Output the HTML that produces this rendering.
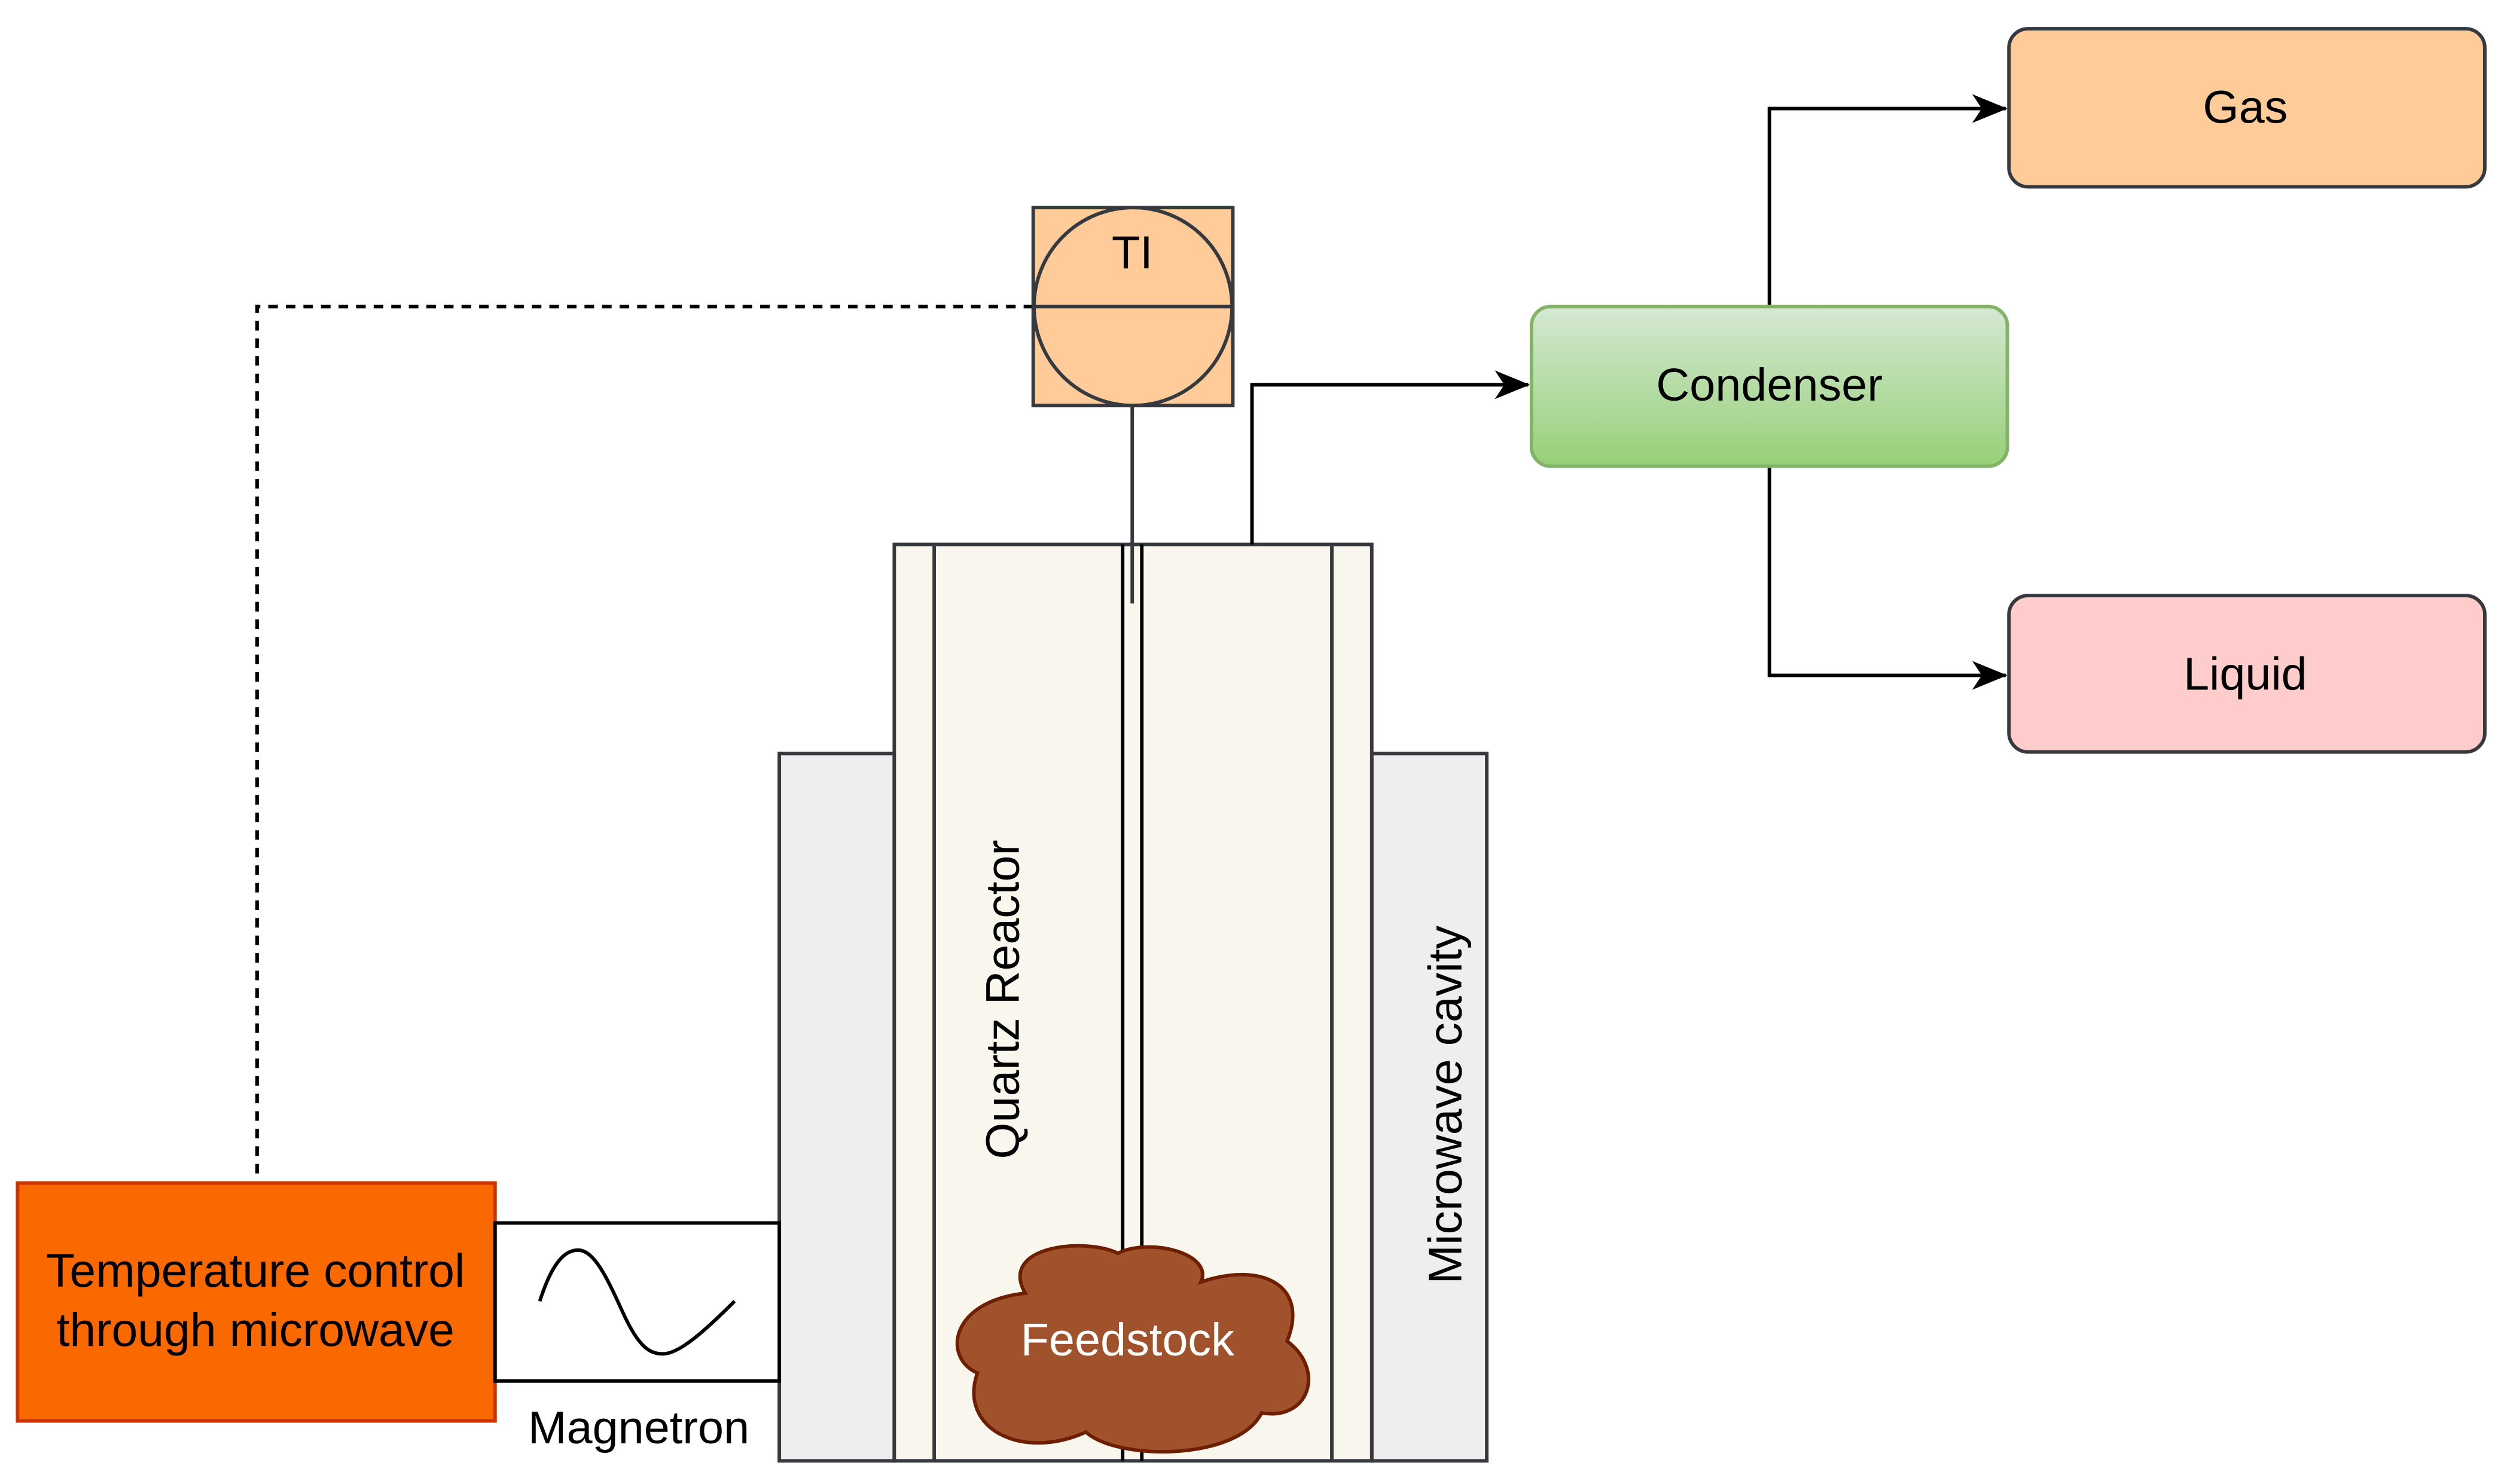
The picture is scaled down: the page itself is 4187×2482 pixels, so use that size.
<!DOCTYPE html>
<html><head><style>html,body{margin:0;padding:0;background:#fff}svg{display:block}</style></head>
<body>
<svg width="4187" height="2482" viewBox="0 0 1568 929.5" xmlns="http://www.w3.org/2000/svg" font-family="Liberation Sans, Arial, sans-serif">
<defs>
<linearGradient id="g" x1="0" y1="0" x2="0" y2="1"><stop offset="0" stop-color="#d5e8d4"/><stop offset="1" stop-color="#97d077"/></linearGradient>
<marker id="a" markerWidth="22" markerHeight="20" refX="21" refY="10" orient="auto" markerUnits="userSpaceOnUse" viewBox="0 0 22 20"><path d="M0,1 L22,10 L0,19 L6,10 Z" fill="#000"/></marker>
</defs>
<rect width="1568" height="929.5" fill="#fff"/>
<polyline points="647,192 161,192 161,740" fill="none" stroke="#000" stroke-width="2.2" stroke-dasharray="6,5"/>
<rect x="488" y="472" width="72" height="443" fill="#eeeeee" stroke="#36393d" stroke-width="2.2"/>
<rect x="859" y="472" width="72" height="443" fill="#eeeeee" stroke="#36393d" stroke-width="2.2"/>
<rect x="560" y="341" width="299" height="574" fill="#f9f7ed" stroke="#36393d" stroke-width="2.2"/>
<line x1="585" y1="341" x2="585" y2="915" stroke="#36393d" stroke-width="2.2"/>
<line x1="834" y1="341" x2="834" y2="915" stroke="#36393d" stroke-width="2.2"/>
<line x1="703" y1="341" x2="703" y2="915" stroke="#000" stroke-width="2.2"/>
<line x1="715" y1="341" x2="715" y2="915" stroke="#000" stroke-width="2.2"/>
<line x1="709" y1="254" x2="709" y2="378" stroke="#36393d" stroke-width="2.2"/>
<rect x="647" y="130" width="125" height="124" fill="#ffcc99" stroke="#36393d" stroke-width="2.2"/>
<circle cx="709.5" cy="192" r="62" fill="#ffcc99" stroke="#36393d" stroke-width="2.2"/>
<line x1="647" y1="192" x2="772" y2="192" stroke="#36393d" stroke-width="2.2"/>
<text x="709" y="168" font-size="29" text-anchor="middle">TI</text>
<polyline points="784,341 784,241 957,241" fill="none" stroke="#000" stroke-width="2.2" marker-end="url(#a)"/>
<polyline points="1108,192 1108,68 1256,68" fill="none" stroke="#000" stroke-width="2.2" marker-end="url(#a)"/>
<polyline points="1108,292 1108,423 1256,423" fill="none" stroke="#000" stroke-width="2.2" marker-end="url(#a)"/>
<rect x="959" y="192" width="298" height="100" rx="12" fill="url(#g)" stroke="#82b366" stroke-width="2.2"/>
<text x="1108" y="251" font-size="29" text-anchor="middle">Condenser</text>
<rect x="1258" y="18" width="298" height="99" rx="12" fill="#ffcc99" stroke="#36393d" stroke-width="2.2"/>
<text x="1406" y="77" font-size="29" text-anchor="middle">Gas</text>
<rect x="1258" y="373" width="298" height="98" rx="12" fill="#ffcccc" stroke="#36393d" stroke-width="2.2"/>
<text x="1406" y="432" font-size="29" text-anchor="middle">Liquid</text>
<rect x="11" y="741" width="299" height="149" fill="#fa6800" stroke="#c73500" stroke-width="2.2"/>
<text x="160" y="806" font-size="29.5" text-anchor="middle">Temperature control</text>
<text x="160" y="843" font-size="29.5" text-anchor="middle">through microwave</text>
<rect x="310" y="766" width="178" height="99" fill="#fff" stroke="#000" stroke-width="2.2"/>
<path d="M338,815 C346,790 354,783 362,783 C372,783 380,800 390,822 C400,844 407,848 415,848 C425,848 440,835 460,815" fill="none" stroke="#000" stroke-width="2.2"/>
<text x="400" y="904" font-size="29" text-anchor="middle">Magnetron</text>
<path d="M642,810 C625,780 680,775 700,785 C720,775 760,785 752,803 C790,790 820,805 806,840 C830,858 820,890 790,885 C775,915 700,915 680,897 C640,915 600,895 612,860 C590,850 595,815 642,810 Z" fill="#a0522d" stroke="#6d1f00" stroke-width="2.2"/>
<text x="706" y="849" font-size="29" text-anchor="middle" fill="#fff">Feedstock</text>
<text transform="translate(638,626) rotate(-90)" font-size="29.5" text-anchor="middle">Quartz Reactor</text>
<text transform="translate(915,692) rotate(-90)" font-size="29.5" text-anchor="middle">Microwave cavity</text>
</svg>
</body></html>
